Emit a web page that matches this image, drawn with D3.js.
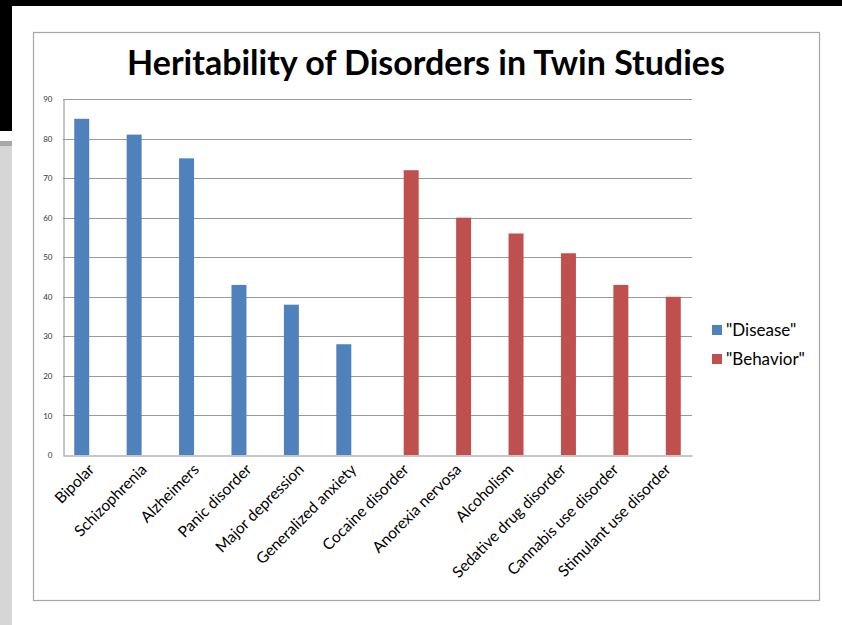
<!DOCTYPE html>
<html>
<head>
<meta charset="utf-8">
<script src="https://cdn.jsdelivr.net/npm/d3@7"></script>
<style>
  body { margin: 0; background: #fff; }
  svg { display: block; }
  text { font-family: Lato, "Open Sans", sans-serif; }
</style>
</head>
<body>
<div id="chart"></div>
<script>
const categories = [
  'Bipolar', 'Schizophrenia', 'Alzheimers', 'Panic disorder', 'Major depression',
  'Generalized anxiety', 'Cocaine disorder', 'Anorexia nervosa', 'Alcoholism',
  'Sedative drug disorder', 'Cannabis use disorder', 'Stimulant use disorder'
]
const seriesNames = ['"Disease"', '"Behavior"']
const disease = [85, 81, 75, 43, 38, 28, null, null, null, null, null, null]
const behavior = [null, null, null, null, null, null, 72, 60, 56, 51, 43, 40]
const yTicks = [0, 10, 20, 30, 40, 50, 60, 70, 80, 90]
const colors = ['#4F81BD', '#C0504D']

const width = 842
const height = 625
const plot = { left: 63, right: 692, top: 99, bottom: 455 }

const svg = d3.select('#chart')
   .append('svg')
   .attr('width', width)
   .attr('height', height)

// slide frame bits
svg.append('rect').attr('x', 0).attr('y', 0).attr('width', width).attr('height', 6).attr('fill', '#000')
svg.append('rect').attr('x', 0).attr('y', 0).attr('width', 12).attr('height', 131).attr('fill', '#000')
svg.append('rect').attr('x', 0).attr('y', 141).attr('width', 12).attr('height', height - 141).attr('fill', '#d6d6d6')
svg.append('rect').attr('x', 0).attr('y', 141).attr('width', 12).attr('height', 5).attr('fill', '#a8a8a8')

// chart border
svg.append('rect')
   .attr('x', 33.5).attr('y', 32.5)
   .attr('width', 786).attr('height', 568)
   .attr('fill', '#fff')
   .attr('stroke', '#a6a6a6')
   .attr('stroke-width', 1.2)

svg.append('text')
   .attr('x', 426)
   .attr('y', 75)
   .attr('text-anchor', 'middle')
   .attr('font-size', 34)
   .attr('font-weight', 'bold')
   .attr('fill', '#000')
   .text('Heritability of Disorders in Twin Studies')

const x = d3.scaleBand()
   .domain(categories)
   .range([plot.left, plot.right])

const xs = d3.scaleBand()
   .domain(seriesNames)
   .range([-x.bandwidth() / 3.5, x.bandwidth() / 3.5])

const y = d3.scaleLinear()
   .domain([0, 90])
   .range([plot.bottom, plot.top])

// gridlines
svg.append('g')
   .selectAll('line')
   .data(yTicks.slice(1))
   .enter()
   .append('line')
   .attr('x1', plot.left)
   .attr('x2', plot.right)
   .attr('y1', d => Math.round(y(d)) + 0.5)
   .attr('y2', d => Math.round(y(d)) + 0.5)
   .attr('stroke', '#999')
   .attr('stroke-width', 1)

const yAxis = svg.append('g')
   .attr('transform', `translate(${plot.left + 0.5},0)`)
   .call(d3.axisLeft(y).tickValues(yTicks).tickSize(0).tickPadding(11))
yAxis.select('.domain').attr('stroke', '#8c8c8c')
yAxis.selectAll('text').attr('font-size', 8).attr('fill', '#333').attr('font-family', '"DejaVu Sans", sans-serif')

const series = [disease, behavior]
series.forEach((vals, si) => {
   svg.append('g')
      .selectAll('rect')
      .data(vals.map((v, i) => ({ cat: categories[i], v })).filter(d => d.v != null))
      .enter()
      .append('rect')
      .attr('x', d => x(d.cat) + x.bandwidth() / 2 + xs(seriesNames[si]))
      .attr('width', xs.bandwidth())
      .attr('y', d => y(d.v))
      .attr('height', d => y(0) - y(d.v))
      .attr('fill', colors[si])
})

const xAxis = svg.append('g')
   .attr('transform', `translate(0,${plot.bottom + 0.5})`)
   .call(d3.axisBottom(x).tickSize(0).tickPadding(0))
xAxis.select('.domain').attr('stroke', '#8c8c8c')
xAxis.selectAll('text')
   .attr('font-size', 15.5)
   .attr('fill', '#000')
   .attr('text-anchor', 'end')
   .attr('dy', 0)
   .attr('transform', 'translate(6,15) rotate(-45)')

const legend = svg.append('g')
   .selectAll('g')
   .data(seriesNames)
   .enter()
   .append('g')
   .attr('transform', (d, i) => `translate(712,${330 + i * 29})`)
legend.append('rect')
   .attr('x', 0).attr('y', -5)
   .attr('width', 10).attr('height', 10)
   .attr('fill', (d, i) => colors[i])
legend.append('text')
   .attr('x', 14)
   .attr('y', 6)
   .attr('font-size', 17)
   .attr('fill', '#000')
   .text(d => d)
</script>
</body>
</html>
